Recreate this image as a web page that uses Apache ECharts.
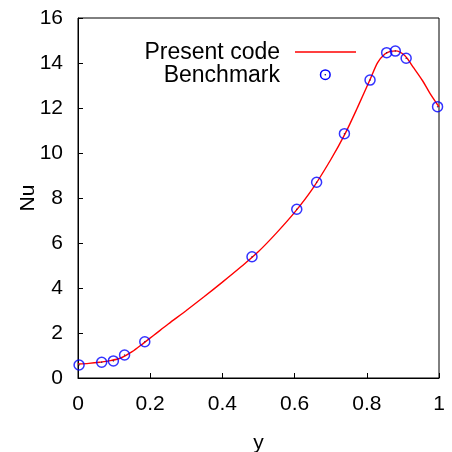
<!DOCTYPE html>
<html><head><meta charset="utf-8">
<script src="https://cdn.jsdelivr.net/npm/echarts@6/dist/echarts.min.js"></script>
<style>html,body{margin:0;padding:0;background:#fff}#c{width:452px;height:452px}</style>
</head><body><div id="c"></div>
<script>
var lineX = [0, 0.03, 0.06, 0.09, 0.12, 0.15, 0.18, 0.21, 0.25, 0.30, 0.35, 0.40, 0.45, 0.50, 0.55, 0.60, 0.65, 0.70, 0.74, 0.775, 0.81, 0.83, 0.85, 0.865, 0.88, 0.905, 0.93, 0.955, 0.975, 1.0];
var lineY = [0.62, 0.65, 0.70, 0.77, 0.90, 1.17, 1.53, 1.90, 2.40, 3.00, 3.62, 4.26, 4.92, 5.62, 6.45, 7.36, 8.42, 9.70, 10.86, 12.05, 13.30, 14.02, 14.40, 14.52, 14.54, 14.33, 13.78, 13.20, 12.65, 12.05];
var benchX = [0.003, 0.0656, 0.098, 0.129, 0.185, 0.482, 0.606, 0.661, 0.738, 0.809, 0.855, 0.879, 0.909, 0.996];
var benchY = [0.58, 0.70, 0.76, 1.02, 1.61, 5.39, 7.50, 8.70, 10.86, 13.24, 14.46, 14.53, 14.21, 12.06];
var xTicks = ['0', '0.2', '0.4', '0.6', '0.8', '1'];
var seriesNames = ['Present code', 'Benchmark'];

var font = 'Liberation Sans';
var linePts = lineX.map(function (x, i) { return [x, lineY[i]]; });
var benchPts = benchX.map(function (x, i) { return [x, benchY[i]]; });

var chart = echarts.init(document.getElementById('c'), null, {renderer: 'canvas'});
chart.setOption({
  animation: false,
  grid: {left: 78, right: 13, top: 18, bottom: 74, outerBoundsMode: 'none', containLabel: false,
         show: true, borderColor: '#000', borderWidth: 1, backgroundColor: 'transparent'},
  xAxis: {
    type: 'value', min: 0, max: 1, interval: 0.2,
    name: 'y', nameLocation: 'middle', nameGap: 55, nameMoveOverlap: false,
    nameTextStyle: {fontFamily: font, fontSize: 21, color: '#000'},
    axisLine: {show: true, lineStyle: {color: '#000', width: 1}},
    axisTick: {show: true, inside: true, length: 5, lineStyle: {color: '#000'}},
    splitLine: {show: false},
    axisLabel: {fontFamily: font, fontSize: 21, color: '#000', margin: 16,
      formatter: function (v) { var i = Math.round(v / 0.2); return xTicks[i]; }}
  },
  yAxis: {
    type: 'value', min: 0, max: 16, interval: 2,
    name: 'Nu', nameLocation: 'middle', nameGap: 39, nameRotate: 90, nameMoveOverlap: false,
    nameTextStyle: {fontFamily: font, fontSize: 21, color: '#000'},
    axisLine: {show: true, lineStyle: {color: '#000', width: 1}},
    axisTick: {show: true, inside: true, length: 5, lineStyle: {color: '#000'}},
    splitLine: {show: false},
    axisLabel: {fontFamily: font, fontSize: 21, color: '#000', margin: 15}
  },
  series: [
    {name: seriesNames[0], type: 'line', data: linePts, showSymbol: false, smooth: 0.3,
     lineStyle: {color: '#ff0000', width: 1.4}, z: 2},
    {name: seriesNames[1], type: 'scatter', data: benchPts, symbol: 'circle', symbolSize: 10,
     itemStyle: {color: 'transparent', borderColor: '#0000ff', borderWidth: 1.5}, z: 3},
    {name: seriesNames[1] + ' dot', type: 'scatter', data: benchPts, symbol: 'circle', symbolSize: 1.5,
     itemStyle: {color: '#000080'}, z: 4}
  ],
  graphic: [
    {type: 'text', right: 452 - 280, top: 41, style: {text: seriesNames[0], font: '23px "' + font + '"', fill: '#000', textAlign: 'right'}},
    {type: 'line', shape: {x1: 295, y1: 52, x2: 356, y2: 52}, style: {stroke: '#ff0000', lineWidth: 1.4}},
    {type: 'text', right: 452 - 280, top: 64.5, style: {text: seriesNames[1], font: '23px "' + font + '"', fill: '#000', textAlign: 'right'}},
    {type: 'circle', shape: {cx: 325.3, cy: 74.7, r: 4.8}, style: {fill: 'none', stroke: '#0000ff', lineWidth: 1.5}},
    {type: 'circle', shape: {cx: 325.3, cy: 74.7, r: 0.8}, style: {fill: '#000080'}}
  ]
});
</script></body></html>
